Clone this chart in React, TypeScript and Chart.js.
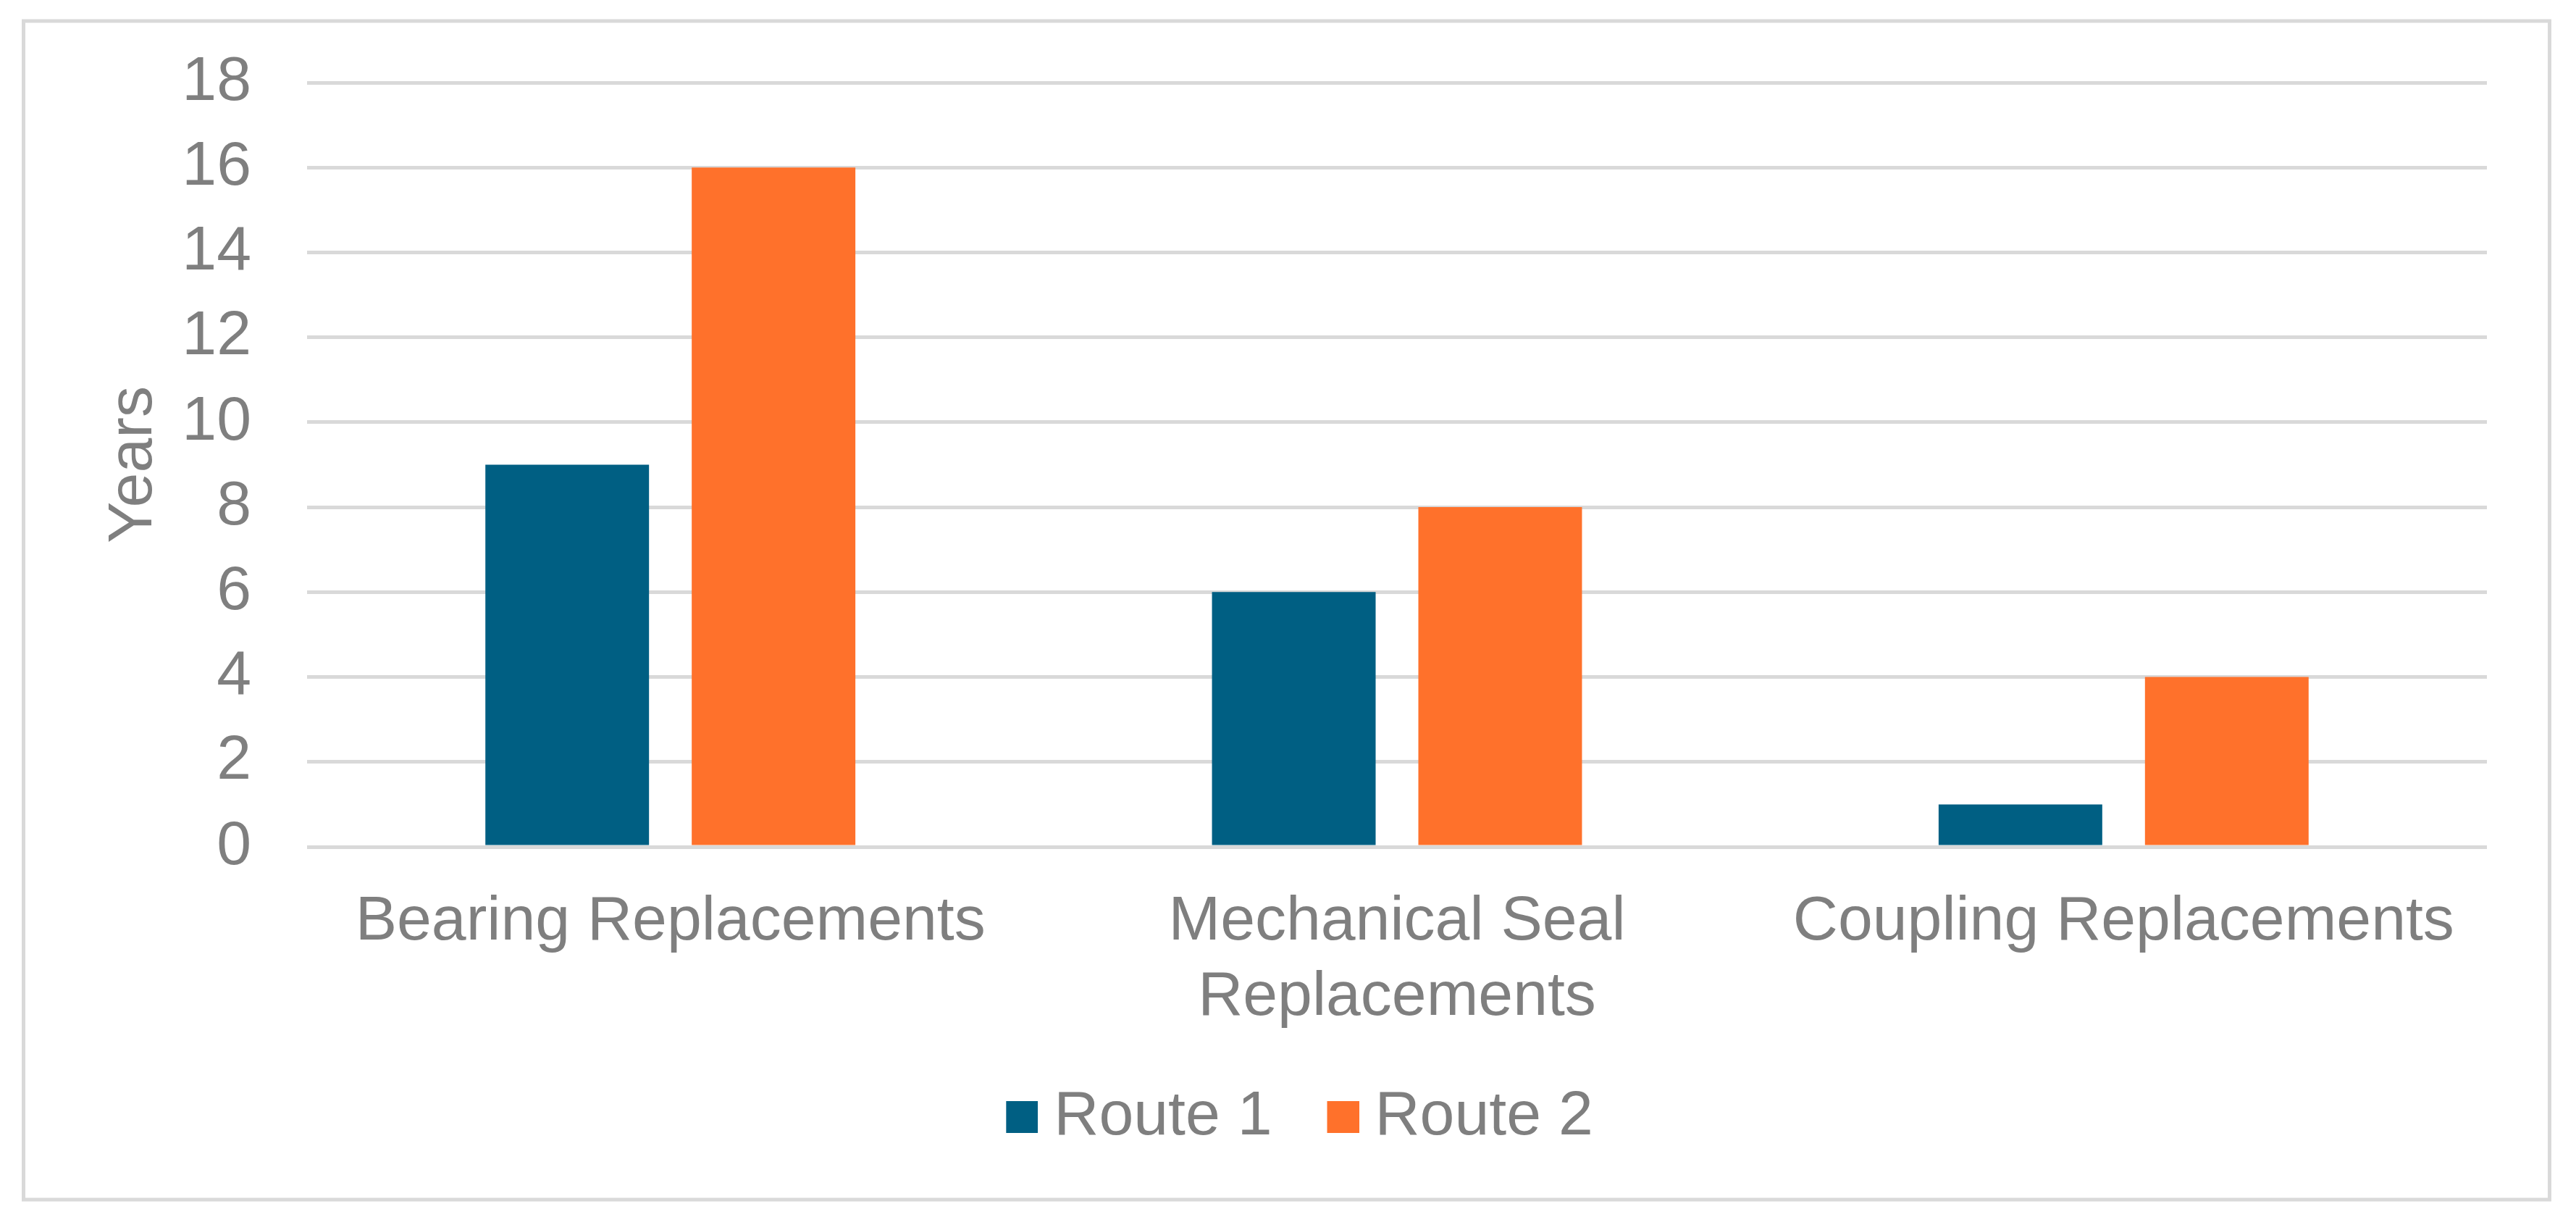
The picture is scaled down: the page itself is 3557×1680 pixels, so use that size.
import React, { useEffect, useRef } from "react";
import { Chart, registerables } from "chart.js";

Chart.register(...registerables);

const categories: (string | string[])[] = [
  "Bearing Replacements",
  ["Mechanical Seal", "Replacements"],
  "Coupling Replacements",
];
const seriesNames = ["Route 1", "Route 2"];
const route1 = [9, 6, 1];
const route2 = [16, 8, 4];
const yTicks = [0, 2, 4, 6, 8, 10, 12, 14, 16, 18];
const yTitle = "Years";

const COLORS = ["#005F83", "#FF712B"];
const TEXT = "#7f7f7f";
const GRID = "#d9d9d9";
const FAMILY = "'Liberation Sans', Arial, Helvetica, sans-serif";
const FONT = { family: FAMILY, size: 86 };

const framePlugin = {
  id: "frame",
  beforeDraw(chart: any) {
    const ctx = chart.ctx;
    ctx.save();
    ctx.fillStyle = "#ffffff";
    ctx.fillRect(0, 0, chart.width, chart.height);
    ctx.strokeStyle = GRID;
    ctx.lineWidth = 5;
    ctx.strokeRect(32.5, 29, 3488, 1627);
    ctx.restore();
  },
};

function makeSwatch(color: string) {
  const c = document.createElement("canvas");
  c.width = 86;
  c.height = 44;
  const g = c.getContext("2d");
  if (g) {
    g.fillStyle = color;
    g.fillRect(42, 0, 44, 44);
  }
  return c;
}

export default function App() {
  const ref = useRef<HTMLCanvasElement | null>(null);

  useEffect(() => {
    if (!ref.current) return;
    const swatches = COLORS.map(makeSwatch);
    const chart = new Chart(ref.current, {
      type: "bar",
      data: {
        labels: categories,
        datasets: [
          {
            label: seriesNames[0],
            data: route1,
            backgroundColor: COLORS[0],
            categoryPercentage: 0.568,
            barPercentage: 0.793,
          },
          {
            label: seriesNames[1],
            data: route2,
            backgroundColor: COLORS[1],
            categoryPercentage: 0.568,
            barPercentage: 0.793,
          },
        ],
      },
      options: {
        responsive: false,
        animation: false,
        devicePixelRatio: 1,
        layout: { padding: { left: 134, right: 123, top: 114, bottom: 85 } },
        plugins: {
          legend: {
            position: "bottom",
            labels: {
              usePointStyle: true,
              pointStyleWidth: 44,
              boxWidth: 44,
              boxHeight: 44,
              padding: 55,
              font: FONT,
              color: TEXT,
              generateLabels: (c: any) =>
                (Chart.defaults.plugins.legend.labels as any)
                  .generateLabels(c)
                  .map((l: any, i: number) => ({ ...l, pointStyle: swatches[i], lineWidth: 0 })),
            },
          },
          tooltip: { enabled: false },
          title: { display: false },
        },
        scales: {
          x: {
            grid: { display: false, drawTicks: false },
            border: { display: false },
            ticks: {
              font: FONT,
              color: TEXT,
              padding: 53,
              autoSkip: false,
              maxRotation: 0,
              minRotation: 0,
            },
            afterFit: (s: any) => {
              s.height = 275;
            },
          },
          y: {
            min: yTicks[0],
            max: yTicks[yTicks.length - 1],
            afterBuildTicks: (s: any) => {
              s.ticks = yTicks.map((v) => ({ value: v }));
            },
            ticks: { font: FONT, color: TEXT, padding: 77, stepSize: 2 },
            grid: { color: GRID, lineWidth: 5, drawTicks: false },
            border: { display: false },
            title: {
              display: true,
              text: yTitle,
              font: FONT,
              color: TEXT,
              padding: 0,
            },
            afterFit: (s: any) => {
              s.width = 290;
              s.paddingTop = 0;
              s.paddingBottom = 0;
            },
          },
        },
      },
      plugins: [framePlugin],
    });
    return () => chart.destroy();
  }, []);

  return (
    <div style={{ position: "fixed", left: 0, top: 0, width: 3557, height: 1680 }}>
      <canvas ref={ref} width={3557} height={1680} style={{ display: "block" }} />
    </div>
  );
}
